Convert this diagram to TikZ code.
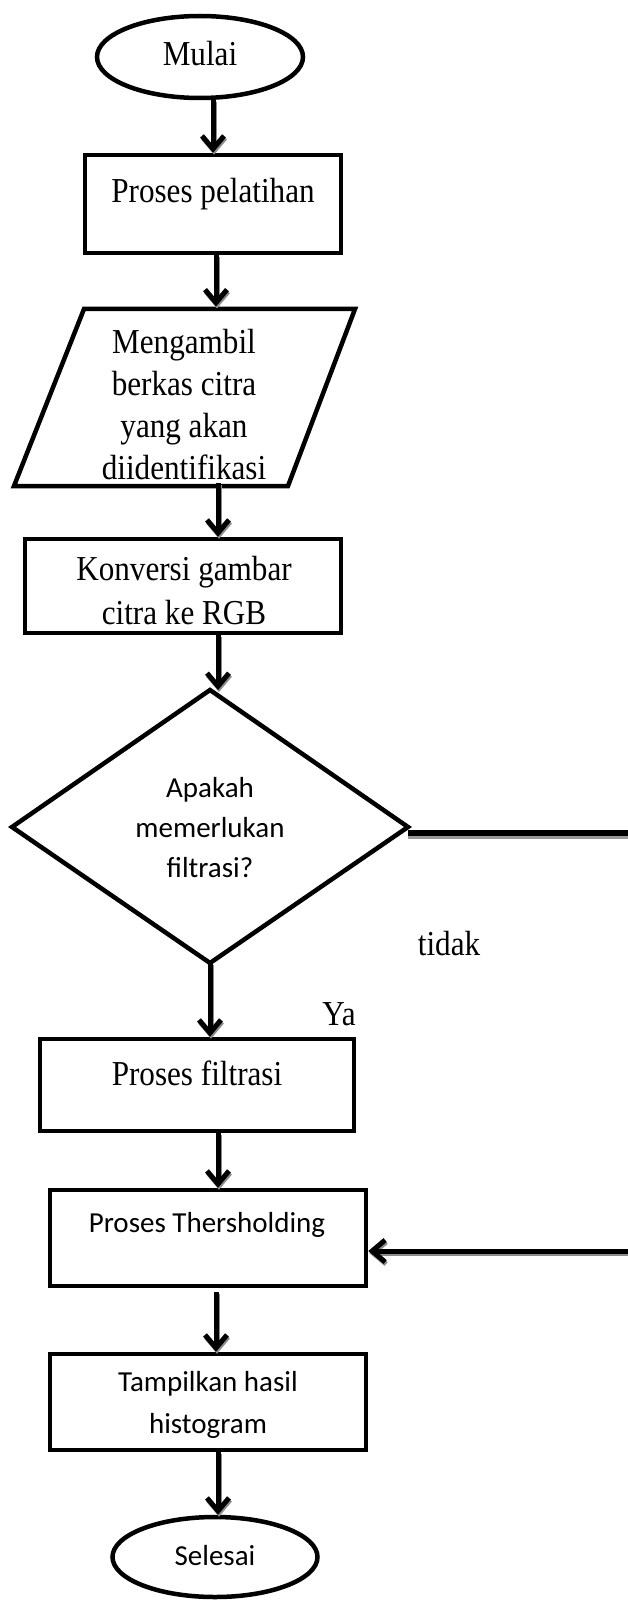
\documentclass[tikz,border=0pt]{standalone}
\usepackage{fontspec}
\setmainfont{Liberation Serif}
\newfontfamily\tallserif[FakeStretch=0.89]{Liberation Serif}
\newfontfamily\calfont{Carlito}
\usetikzlibrary{arrows.meta,shapes.geometric}
\begin{document}
\begin{tikzpicture}[x=1pt,y=-1pt,
  fbarb/.tip={Straight Barb[length=13pt,width=22pt]},
  shp/.style={draw=black,line width=4.5pt},
  boxnode/.style={shp,rectangle,inner sep=0pt},
  ovalnode/.style={shp,ellipse,inner sep=0pt},
  stxt/.style={font=\tallserif\fontsize{35}{42}\selectfont,align=center,inner sep=0pt},
  ctxt/.style={font=\calfont\fontsize{29}{41}\selectfont,align=center,inner sep=0pt},
  conn/.style={line width=5pt,-fbarb,
    preaction={draw=black!45,line width=5pt,-fbarb,transform canvas={shift={(1pt,-2pt)}}}},
  hline/.style={line width=6pt,
    preaction={draw=black!40,line width=6pt,transform canvas={shift={(0pt,-3pt)}}}}
]
\useasboundingbox (0,0) rectangle (628,1602);
\fill[white] (0,0) rectangle (628,1602);

% shapes
\node[ovalnode,minimum width=206pt,minimum height=82pt] (mulai) at (200,57) {};
\node[stxt] (tmulai) at (200,54) {Mulai};

\node[boxnode,minimum width=256pt,minimum height=98pt] (pel) at (213,204) {};
\node[stxt] (tpel) at (213,194) {Proses pelatihan};

\coordinate (pTL) at (84,309);
\coordinate (pTR) at (355,309);
\coordinate (pBR) at (288,486);
\coordinate (pBL) at (14,486);
\node[stxt] (tpara) at (184,405) {Mengambil\\berkas citra\\yang akan\\diidentifikasi};
\draw[shp,line join=miter] (pTL) -- (pTR) -- (pBR) -- (pBL) -- cycle;

\node[boxnode,minimum width=316pt,minimum height=94pt] (konv) at (183,586) {};
\node[stxt,font=\tallserif\fontsize{35}{44}\selectfont] (tkonv) at (184,591) {Konversi gambar\\citra ke RGB};

\coordinate (dT) at (210,690);
\coordinate (dR) at (408,827);
\coordinate (dB) at (210,963);
\coordinate (dL) at (12,827);
\draw[shp,line join=miter] (dT) -- (dR) -- (dB) -- (dL) -- cycle;
\node[ctxt,font=\calfont\fontsize{29}{40}\selectfont] (tdia) at (210,828) {Apakah\\memerlukan\\filtrasi?};

\node[stxt] (ttidak) at (449,944) {tidak};
\node[stxt] (tya) at (339,1014) {Ya};

\node[boxnode,minimum width=314pt,minimum height=92pt] (filt) at (197,1085) {};
\node[stxt] (tfilt) at (197,1073) {Proses filtrasi};

\node[boxnode,minimum width=316pt,minimum height=96pt] (thr) at (208,1238) {};
\node[ctxt] (tthr) at (207,1225) {Proses Thersholding};

\node[boxnode,minimum width=316pt,minimum height=96pt] (tam) at (208,1402) {};
\node[ctxt,font=\calfont\fontsize{29}{42}\selectfont] (ttam) at (208,1405) {Tampilkan hasil\\histogram};

\node[ovalnode,minimum width=205pt,minimum height=80pt] (selesai) at (215,1557) {};
\node[ctxt] (tsel) at (215,1556) {Selesai};

% connectors
\coordinate (pIn) at (216,306.5);
\coordinate (a3) at (218,483);
\coordinate (c7) at (216,1292);
\coordinate (noEnd) at (628,833);
\coordinate (backStart) at (628,1251);

\draw[conn] (mulai.south -| pel.north) -- (pel.north);
\draw[conn] (pel.south -| pIn) -- (pIn);
\draw[conn] (a3) -- (a3 |- konv.north);
\draw[conn] (konv.south -| a3) -- (a3 |- dT);
\draw[conn] (dB) -- (dB |- filt.north);
\draw[conn] (filt.south -| a3) -- (a3 |- thr.north);
\draw[conn] (c7) -- (c7 |- tam.north);
\draw[conn] (tam.south -| a3) -- (a3 |- selesai.north);
\draw[hline] (dR |- noEnd) -- (noEnd);
\draw[conn] (backStart) -- (thr.east |- backStart);
\end{tikzpicture}
\end{document}
